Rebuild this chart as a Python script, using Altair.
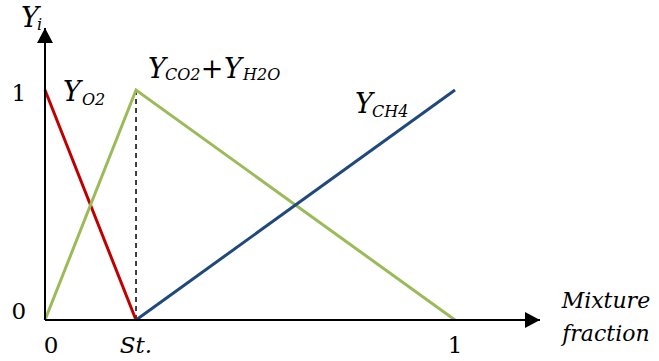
import altair as alt
import pandas as pd

# Stoichiometric mixture fraction
st = 0.222

# Species mass fractions against mixture fraction
o2_x, o2_y = [0, st], [1, 0]
prod_x, prod_y = [0, st, 1], [0, 1, 0]
ch4_x, ch4_y = [st, 1], [0, 1]

series_names = ["O2", "CO2+H2O", "CH4"]
series_colors = ["#C00000", "#9BBB59", "#1F497D"]

# Axis extents (the arrows end here)
x_end = 1.2073
y_end = 1.2696

# Tick labels (x positions of the label glyphs, in data units)
x_tick_lbl_x = [0.015, 1.0]
x_tick_txt = ["0", "1"]
st_label = "St."
y_tick_lbl_y = [0.004, 0.954]
y_tick_txt = ["0", "1"]

# Curve labels: main letters and subscripts, in data units
main_txt = ["Y", "Y", "Y", "+", "Y", "Y"]
main_x = [-0.0585, 0.0439, 0.2512, 0.3800, 0.4366, 0.7560]
main_y = [1.274, 0.952, 1.052, 1.052, 1.052, 0.900]
sub_txt = ["i", "O2", "CO2", "H2O", "CH4"]
sub_x = [-0.0195, 0.0902, 0.2927, 0.4830, 0.7976]
sub_y = [1.261, 0.935, 1.0435, 1.0435, 0.8826]

x_title = ["Mixture", "fraction"]
x_title_x = 1.368
x_title_y = [0.052, -0.090]

FONT = "DejaVu Serif"
PLOT_W, PLOT_H = 495, 292

rows = []
for name, xs, ys in zip(series_names, [o2_x, prod_x, ch4_x], [o2_y, prod_y, ch4_y]):
    for i, (xv, yv) in enumerate(zip(xs, ys)):
        rows.append({"series": name, "i": i, "x": xv, "y": yv})
curves = pd.DataFrame(rows)

xs = alt.Scale(domain=[0, x_end], nice=False, zero=False)
ys = alt.Scale(domain=[0, y_end], nice=False, zero=False)


def X(field="x"):
    return alt.X(f"{field}:Q", scale=xs, axis=None)


def Y(field="y"):
    return alt.Y(f"{field}:Q", scale=ys, axis=None)


# Axis lines
axes_df = pd.DataFrame({"x": [0, 0], "x2": [x_end, 0], "y": [0, 0], "y2": [0, y_end]})
axes = alt.Chart(axes_df).mark_rule(color="black", strokeWidth=2).encode(
    x=X(), x2="x2:Q", y=Y(), y2="y2:Q"
)

# Arrowheads: 15 px long, 16 px wide, converted to data units
ux = x_end / PLOT_W
uy = y_end / PLOT_H
x_head = pd.DataFrame({"x": [x_end - 15 * ux, x_end], "y": [-8 * uy, 0], "y2": [8 * uy, 0]})
y_head = pd.DataFrame({"y": [y_end - 15 * uy, y_end], "x": [-8 * ux, 0], "x2": [8 * ux, 0]})

x_arrow = alt.Chart(x_head).mark_area(color="black", orient="vertical", opacity=1).encode(
    x=X(), y=Y(), y2="y2:Q"
)
y_arrow = alt.Chart(y_head).mark_area(color="black", orient="horizontal", opacity=1).encode(
    y=Y(), x=X(), x2="x2:Q"
)

dash = alt.Chart(pd.DataFrame({"x": [st], "y": [0], "y2": [1]})).mark_rule(
    color="black", strokeWidth=1.5, strokeDash=[5, 4]
).encode(x=X(), y=Y(), y2="y2:Q")

lines = alt.Chart(curves).mark_line(strokeWidth=3, clip=False).encode(
    x=X(), y=Y(),
    color=alt.Color("series:N", scale=alt.Scale(domain=series_names, range=series_colors), legend=None),
    order="i:Q",
)

xticks = alt.Chart(pd.DataFrame({"x": x_tick_lbl_x, "y": [-0.143] * 2, "t": x_tick_txt})).mark_text(
    font=FONT, fontSize=23, align="center", baseline="alphabetic", color="black"
).encode(x=X(), y=Y(), text="t:N")

stick = alt.Chart(pd.DataFrame({"x": [st], "y": [-0.143], "t": [st_label]})).mark_text(
    font=FONT, fontSize=23, fontStyle="italic", align="center", baseline="alphabetic", color="black"
).encode(x=X(), y=Y(), text="t:N")

yticks = alt.Chart(pd.DataFrame({"x": [-0.064] * 2, "y": y_tick_lbl_y, "t": y_tick_txt})).mark_text(
    font=FONT, fontSize=23, align="center", baseline="alphabetic", color="black"
).encode(x=X(), y=Y(), text="t:N")

main_lbl = alt.Chart(pd.DataFrame({"x": main_x, "y": main_y, "t": main_txt})).mark_text(
    font=FONT, fontSize=27, fontStyle="italic", align="left", baseline="alphabetic", color="black"
).encode(x=X(), y=Y(), text="t:N")

sub_lbl = alt.Chart(pd.DataFrame({"x": sub_x, "y": sub_y, "t": sub_txt})).mark_text(
    font=FONT, fontSize=16, fontStyle="italic", align="left", baseline="alphabetic", color="black"
).encode(x=X(), y=Y(), text="t:N")

xtitle = alt.Chart(pd.DataFrame({"x": [x_title_x] * 2, "y": x_title_y, "t": x_title})).mark_text(
    font=FONT, fontSize=22, fontStyle="italic", align="center", baseline="alphabetic", color="black"
).encode(x=X(), y=Y(), text="t:N")

chart = alt.layer(
    dash, lines, axes, x_arrow, y_arrow, xticks, stick, yticks, main_lbl, sub_lbl, xtitle
).properties(
    width=PLOT_W, height=PLOT_H,
    background="white",
    autosize=alt.AutoSizeParams(type="none"),
    padding={"left": 45, "top": 28, "right": 119, "bottom": 41},
).configure_view(stroke=None)

chart.save("out.html", embed_options={"renderer": "svg", "actions": False})
